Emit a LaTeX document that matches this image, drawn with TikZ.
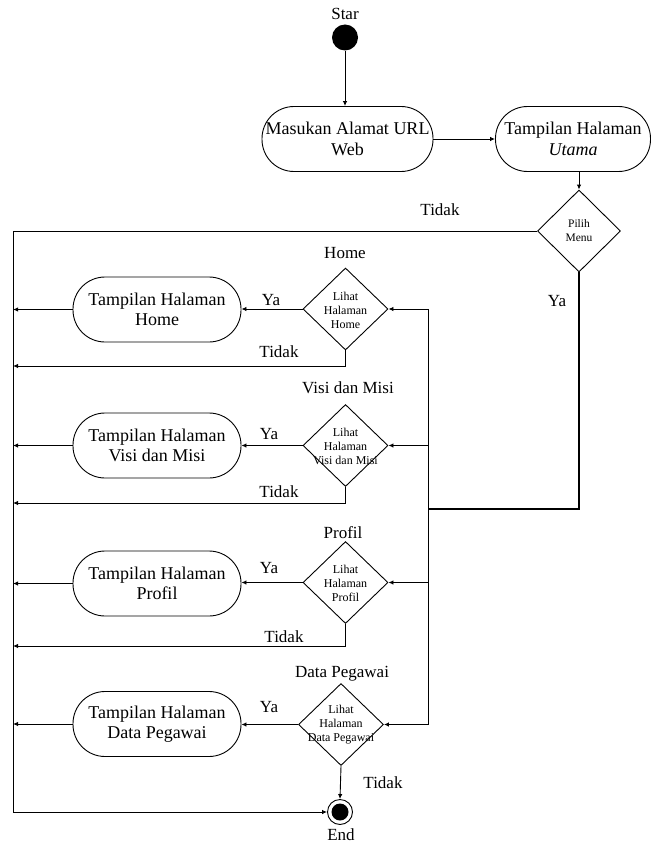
\documentclass[tikz,border=0pt]{standalone}
\usepackage{fontspec}
\setmainfont{Liberation Serif}
\usetikzlibrary{shapes.geometric,arrows.meta}
\begin{document}
\begin{tikzpicture}[x=1pt,y=-1pt,
 line width=0.9pt,
 every node/.style={font=\fontsize{17}{19}\selectfont},
 actbox/.style={draw, rectangle, rounded corners=32pt, minimum width=168pt, minimum height=65pt, align=center, inner sep=1pt, font=\fontsize{18}{20.5}\selectfont},
 decbox/.style={draw, diamond, minimum width=85pt, minimum height=82pt, inner sep=0pt},
 dectext/.style={align=center, font=\fontsize{12}{14}\selectfont},
 arr/.style={-{Latex[length=5pt,width=4.5pt]}}
]
\useasboundingbox (0,0) rectangle (651,845);

% start
\node[circle, fill=black, minimum size=26pt, inner sep=0pt] (st) at (345,37.5) {};
\node (stl) at (345,14) {Star};

% top boxes
\node[actbox, minimum width=171pt] (b0) at (347.5,139) {Masukan Alamat URL\\Web};
\node[actbox, minimum width=155pt] (bu) at (573,139) {Tampilan Halaman\\\textit{Utama}};

% pilih menu
\node[decbox, minimum width=83pt] (pm) at (579,231) {};
\node[dectext, font=\fontsize{11.5}{14}\selectfont] (pmt) at (579,231) {Pilih\\Menu};

% branch diamonds
\node[decbox] (d1) at (345.5,309) {};
\node[dectext] (d1t) at (345.5,310) {Lihat\\Halaman\\Home};
\node[decbox] (d2) at (345.5,445.5) {};
\node[dectext] (d2t) at (345.5,446) {Lihat\\Halaman\\Visi dan Misi};
\node[decbox] (d3) at (345.5,582.5) {};
\node[dectext] (d3t) at (345.5,583) {Lihat\\Halaman\\Profil};
\node[decbox] (d4) at (341,724.5) {};
\node[dectext] (d4t) at (341,725) {Lihat\\Halaman\\Data Pegawai};

% branch boxes
\node[actbox] (b1) at (157,309.5) {Tampilan Halaman\\Home};
\node[actbox] (b2) at (157,445.5) {Tampilan Halaman\\Visi dan Misi};
\node[actbox] (b3) at (157,583.5) {Tampilan Halaman\\Profil};
\node[actbox] (b4) at (157,724) {Tampilan Halaman\\Data Pegawai};

% end
\node[circle, draw, minimum size=25pt, inner sep=0pt] (en) at (340,812) {};
\node[circle, fill=black, minimum size=17pt, inner sep=0pt] (eni) at (340,812) {};
\node (enl) at (341,835) {End};

% labels
\node (lt0) at (440,210) {Tidak};
\node (ly0) at (557,301) {Ya};
\node (lh1) at (345,253) {Home};
\node (lh2) at (348,388) {Visi dan Misi};
\node (lh3) at (343,533) {Profil};
\node (lh4) at (342,674) {Data Pegawai};
\node (ly1) at (271,300) {Ya};
\node (ly2) at (269,434) {Ya};
\node (ly3) at (269,568) {Ya};
\node (ly4) at (269,707) {Ya};
\node (lt1) at (279,352) {Tidak};
\node (lt2) at (279,492) {Tidak};
\node (lt3) at (284,637) {Tidak};
\node (lt4) at (383,783) {Tidak};

% coordinates
\coordinate (ltop) at (13,231);
\coordinate (lbot) at (13,812);
\coordinate (rtop) at (428,309);
\coordinate (rbot) at (428,724.5);
\coordinate (rj) at (428,509);
\coordinate (t1) at (13,366);
\coordinate (t2) at (13,503);
\coordinate (t3) at (13,646);

% connectors
\draw[arr] (st) -- (st |- b0.north);
\draw[arr] (b0.east) -- (bu.west);
\draw[arr] (bu.south -| pm.north) -- (pm.north);
\draw[arr] (pm.west) -- (ltop) -- (lbot) -- (en.west);
\draw[line width=1.4pt] (pm.south) |- (rj);
\draw (rtop) -- (rbot);
\draw[arr] (rtop) -- (d1.east);
\draw[arr] (rtop |- d2.east) -- (d2.east);
\draw[arr] (rtop |- d3.east) -- (d3.east);
\draw[arr] (rbot) -- (d4.east);

\draw[arr] (d1.west) -- (d1.west -| b1.east);
\draw[arr] (d2.west) -- (d2.west -| b2.east);
\draw[arr] (d3.west) -- (d3.west -| b3.east);
\draw[arr] (d4.west) -- (d4.west -| b4.east);

\draw[arr] (b1.west) -- (b1.west -| ltop);
\draw[arr] (b2.west) -- (b2.west -| ltop);
\draw[arr] (b3.west) -- (b3.west -| ltop);
\draw[arr] (b4.west) -- (b4.west -| ltop);

\draw[arr] (d1.south) |- (t1);
\draw[arr] (d2.south) |- (t2);
\draw[arr] (d3.south) |- (t3);
\draw[arr] (d4.south) -- (en.north);
\end{tikzpicture}
\end{document}
